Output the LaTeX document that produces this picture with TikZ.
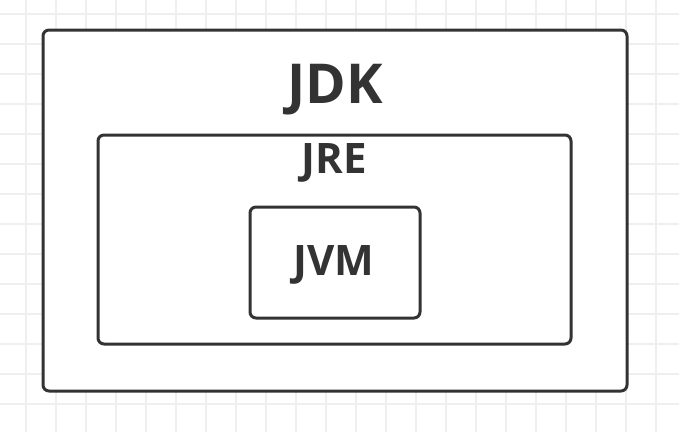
\documentclass[tikz,border=0pt]{standalone}
\usepackage{fontspec}
\setmainfont{Open Sans}
\definecolor{ink}{HTML}{333333}
\definecolor{gridgray}{HTML}{EFEFEF}
\tikzset{
  box/.style={draw=ink, line width=3pt, rounded corners=6pt, fill=white},
  label/.style={text=ink, font=\bfseries},
}
\begin{document}
\begin{tikzpicture}[x=1pt, y=-1pt]
    \useasboundingbox[fill=white] (0,0) rectangle (679,432);
    \foreach \gx in {26,56,...,656}
        \draw[gridgray, line width=1.5pt] (\gx,0) -- (\gx,432);
    \foreach \gy in {14,44,...,404}
        \draw[gridgray, line width=1.5pt] (0,\gy) -- (679,\gy);

    \draw[box] (43,30) rectangle (627,391);
    \draw[box] (98,135) rectangle (571,344);
    \draw[box] (250,207) rectangle (420,318);

    \node[label, font=\bfseries\fontsize{55}{55}\selectfont] (jdk) at (335,90) {JDK};
    \node[label, font=\bfseries\fontsize{42}{42}\selectfont] (jre) at (334,163) {JRE};
    \node[label, font=\bfseries\fontsize{42}{42}\selectfont] (jvm) at (334,265) {JVM};
\end{tikzpicture}
\end{document}
